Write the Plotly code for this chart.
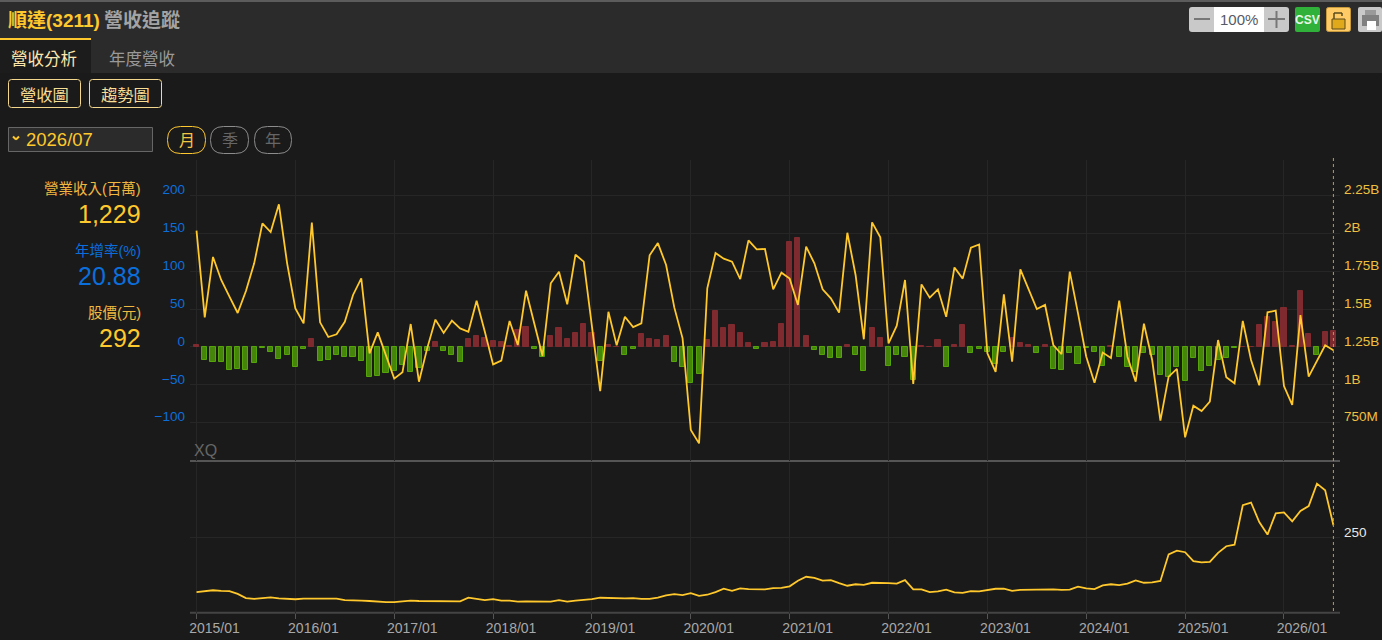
import plotly.graph_objects as go

W, H = 1382, 640

months = [f"{y}/{m:02d}" for y in range(2015, 2027) for m in range(1, 13)][:139]
year_ticks = [f"{y}/01" for y in range(2015, 2027)]

# monthly revenue, millions
revenue = [2019, 1446, 1845, 1693, 1583, 1475, 1620, 1803, 2067, 2010, 2193, 1803,
           1505, 1406, 2072, 1413, 1316, 1334, 1417, 1594, 1704, 1208, 1347, 1197,
           1041, 1083, 1402, 1021, 1241, 1431, 1343, 1424, 1373, 1351, 1556, 1351,
           1135, 1160, 1422, 1263, 1622, 1406, 1191, 1671, 1748, 1532, 1860, 1814,
           1384, 959, 1483, 1261, 1450, 1382, 1406, 1856, 1937, 1792, 1510, 1307,
           702, 613, 1638, 1871, 1834, 1814, 1699, 1955, 1895, 1898, 1631, 1741,
           1702, 1528, 1913, 1803, 1631, 1572, 1477, 2005, 1726, 1301, 2074, 1975,
           1274, 1391, 1693, 1006, 1664, 1576, 1631, 1450, 1776, 1702, 1906, 1928,
           1208, 1085, 1598, 1153, 1763, 1633, 1501, 1528, 1263, 1202, 1748, 1472,
           1186, 1014, 1213, 1177, 1556, 1186, 1021, 1404, 1164, 763, 1054, 1105,
           653, 862, 827, 889, 1296, 1050, 1010, 1422, 1164, 997, 1479, 1490,
           992, 867, 1461, 1054, 1157, 1261, 1229]

# year on year growth, %
yoy = [3, -17, -19.5, -19.5, -31, -29, -31, -21, -1.5, -7, -16, -10,
       -26, -3, 10, -18, -17, -10, -13, -13, -18, -40, -39, -34,
       -32, -24, -33, -28, -6, 6, -6, -11, -19.5, 10, 14, 12,
       8, 6, 1, 22, 27, -3, -13, 15, 25, 11, 18, 30,
       18, -18, 3, 0.5, -11, -3, 17, 10, 9, 15, -19.5, -27,
       -48, -36, 9, 47, 25, 29, 19, 5, -3, 5, 6, 30,
       139, 144, 15, -4, -11, -14, -14, 2.5, -10, -32, 25, 12,
       -25, -10, -13, -44, 1, 0.5, 9, -27, 2.5, 29, -8, -3,
       -7, -22, -7, 12, 5, 3, -8, 3, -29, -31, -8, -23,
       -1.5, -7, -25, 1, -13, -27, -33, -8, -10, -37, -40, -26,
       -45, -15, -32, -25, -17, -14, -1.5, 0.5, 0.5, 29, 39, 33,
       51, 1, 74, 17, -11, 19.5, 20.88]

# monthly stock price
price = [69, 71, 75, 73, 72, 63, 49, 46, 48, 51, 48, 47,
         45, 47, 48, 47, 47, 47, 42, 40, 40, 39, 36, 35,
         35, 37, 40, 39, 39, 38, 37, 37, 38, 50, 45, 42,
         45, 40, 40, 37, 38, 38, 37, 37, 42, 37, 40, 42,
         45, 50, 49, 48, 48, 49, 46, 46, 50, 58, 62, 59,
         65, 56, 60, 69, 80, 73, 81, 79, 78, 78, 82, 83,
         88, 107, 120, 116, 107, 109, 99, 90, 95, 93, 100, 100,
         99, 97, 109, 78, 78, 69, 71, 77, 68, 66, 72, 71,
         75, 80, 80, 73, 76, 77, 78, 78, 78, 76, 77, 87,
         81, 79, 91, 95, 92, 97, 108, 100, 101, 106, 195, 207,
         202, 172, 168, 170, 200, 222, 227, 359, 368, 303, 261, 332,
         335, 305, 340, 356, 431, 409, 292]

pct_ticks = [-100, -50, 0, 50, 100, 150, 200]
rev_ticks = [750, 1000, 1250, 1500, 1750, 2000, 2250]
rev_tick_labels = ["750M", "1B", "1.25B", "1.5B", "1.75B", "2B", "2.25B"]
price_ticks = [250]

BG = "#1a1a1a"
BAND = "#2b2b2b"
GRID = "#262626"
YELLOW = "#ffc82c"
BLUE = "#0a6fdc"
BASE_FONT = "Liberation Sans, Noto Sans CJK TC"


def px(x):
    return x / W


def py(y):
    return 1 - y / H


def rect(x0, y0, x1, y1, fill=None, line=None, width=1):
    return dict(type="rect", xref="paper", yref="paper",
                x0=px(x0), x1=px(x1), y0=py(y0), y1=py(y1),
                fillcolor=fill or "rgba(0,0,0,0)",
                line=dict(color=line or "rgba(0,0,0,0)", width=width if line else 0),
                layer="below")


def rrect(x0, y0, x1, y1, r, fill=None, line=None, width=1):
    p = (f"M{px(x0 + r)},{py(y0)} L{px(x1 - r)},{py(y0)} Q{px(x1)},{py(y0)} {px(x1)},{py(y0 + r)} "
         f"L{px(x1)},{py(y1 - r)} Q{px(x1)},{py(y1)} {px(x1 - r)},{py(y1)} "
         f"L{px(x0 + r)},{py(y1)} Q{px(x0)},{py(y1)} {px(x0)},{py(y1 - r)} "
         f"L{px(x0)},{py(y0 + r)} Q{px(x0)},{py(y0)} {px(x0 + r)},{py(y0)} Z")
    return dict(type="path", xref="paper", yref="paper", path=p,
                fillcolor=fill or "rgba(0,0,0,0)",
                line=dict(color=line or "rgba(0,0,0,0)", width=width if line else 0),
                layer="below")


def seg(x0, y0, x1, y1, color, width=1):
    return dict(type="line", xref="paper", yref="paper",
                x0=px(x0), x1=px(x1), y0=py(y0), y1=py(y1),
                line=dict(color=color, width=width), layer="below")


def label(x, y, text, size, color, anchor="left", bold=False):
    if bold:
        text = f"<b>{text}</b>"
    return dict(xref="paper", yref="paper", x=px(x), y=py(y), text=text, showarrow=False,
                xanchor=anchor, yanchor="middle", borderpad=0,
                font=dict(size=size, color=color, family=BASE_FONT))


shapes = [
    rect(0, 0, W, 73, BAND),
    rect(0, 0, W, 2, "#5c5c5c"),
    rect(0, 38, 91, 73, "#1c1c1c"),
    rect(0, 38, 91, 40, YELLOW),
    # buttons
    rrect(8.5, 79.5, 80.5, 107.5, 3, None, "#f2d78c"),
    rrect(89.5, 79.5, 161.5, 107.5, 3, None, "#f2d78c"),
    rect(8.5, 127.5, 152.5, 151.5, "#2b2b2b", "#666666"),
    seg(13, 136.5, 16, 139.5, YELLOW, 2),
    seg(16, 139.5, 19, 136.5, YELLOW, 2),
    rrect(167.5, 126.5, 205.5, 153.5, 13, None, YELLOW),
    rrect(210.5, 126.5, 248.5, 153.5, 13, None, "#8c8c8c"),
    rrect(254.5, 126.5, 291.5, 153.5, 13, None, "#8c8c8c"),
    # zoom control
    rrect(1189, 7, 1289, 32, 3, "#c9c9c9"),
    rect(1214, 7, 1264, 32, "#ffffff"),
    seg(1194, 19, 1210, 19, "#777777", 2),
    seg(1268, 19, 1285, 19, "#777777", 2),
    seg(1276.5, 11, 1276.5, 28, "#777777", 2),
    rrect(1295, 7, 1320, 32, 2, "#2fb13a"),
    rrect(1326.5, 7.5, 1350.5, 31.5, 2, "#ffcb66", "#c99a3a"),
    rect(1332, 19, 1345, 29, "#e0a91c", "#5a4a1e"),
    seg(1334, 19, 1334, 13, "#5a4a1e", 1.5),
    seg(1334, 13, 1342, 13, "#5a4a1e", 1.5),
    seg(1342, 13, 1342, 16, "#5a4a1e", 1.5),
    rrect(1358, 7, 1382, 32, 2, "#c9c9c9"),
    rect(1362, 15, 1379, 26, "#808080"),
    rect(1365, 10, 1376, 15, "#9a9a9a"),
    rect(1367, 21, 1376, 30, "#ffffff"),
    # panel rules
    seg(190, 461, 1340, 461, "#555555", 2),
    seg(190, 612.7, 1340, 612.7, "#444444", 2),
    # latest month marker
    dict(type="line", xref="x", yref="paper", x0=months[-1], x1=months[-1],
         y0=py(158), y1=py(612),
         line=dict(color="#c79a35", width=1, dash="3px,3px"), layer="above"),
]

annotations = [
    label(7, 20, "順達(3211)", 19, YELLOW, bold=True),
    label(103, 20, "營收追蹤", 19, "#a3a3a3", bold=True),
    label(44, 59, "營收分析", 16.5, "#fde7ae", "center"),
    label(142, 59, "年度營收", 16.5, "#999999", "center"),
    label(44.5, 95, "營收圖", 16.3, "#f8dd94", "center"),
    label(125.5, 95, "趨勢圖", 16.3, "#f8dd94", "center"),
    label(25, 139, "2026/07", 18.5, YELLOW),
    label(186.5, 140, "月", 16, "#f5c542", "center"),
    label(229.5, 140, "季", 16, "#666666", "center"),
    label(273, 140, "年", 16, "#666666", "center"),
    label(1239, 19.5, "100%", 15, "#555a66", "center"),
    label(1307.5, 19.5, "CSV", 12, "#e8f7e8", "center", bold=True),
    label(142, 189, "營業收入(百萬)", 14.5, "#f0b840", "right"),
    label(142, 214, "1,229", 25, YELLOW, "right"),
    label(142, 251, "年增率(%)", 14.5, BLUE, "right"),
    label(142, 276, "20.88", 25, BLUE, "right"),
    label(142, 313, "股價(元)", 14.5, "#f0b840", "right"),
    label(142, 338, "292", 25, YELLOW, "right"),
    label(193, 450, "XQ", 16, "#666666"),
]

bar_fill = ["#7e2a2e" if v > 0 else "#458509" for v in yoy]
bar_edge = ["#7e2a2e" if v > 0 else "#55a50a" for v in yoy]

fig = go.Figure()
fig.add_trace(go.Bar(x=months, y=yoy, xaxis="x2", yaxis="y", width=0.62,
                     marker=dict(color=bar_fill, line=dict(color=bar_edge, width=1))))
fig.add_trace(go.Scatter(x=months, y=revenue, xaxis="x2", yaxis="y2", mode="lines",
                         line=dict(color=YELLOW, width=1.8)))
fig.add_trace(go.Scatter(x=months, y=price, xaxis="x", yaxis="y3", mode="lines",
                         line=dict(color=YELLOW, width=1.8)))

x_range = [-0.79, 138.8]
x_domain = [px(190), px(1340)]
top_domain = [py(461), py(160)]
low_domain = [py(612.7), py(463)]

fig.update_layout(
    width=W, height=H, margin=dict(l=0, r=0, t=0, b=0),
    paper_bgcolor=BG, plot_bgcolor=BG, showlegend=False, bargap=0,
    font=dict(family=BASE_FONT),
    shapes=shapes, annotations=annotations,
    xaxis=dict(type="category", categoryorder="array", categoryarray=months,
               domain=x_domain, range=x_range, anchor="y3",
               tickvals=year_ticks, ticktext=year_ticks, ticks="outside", ticklen=5,
               tickcolor="#555555", showgrid=True, gridcolor=GRID, zeroline=False, showline=False,
               ticklabelshift=18, ticklabelstandoff=-3, tickfont=dict(size=14, color="#a8a8a8")),
    xaxis2=dict(type="category", categoryorder="array", categoryarray=months,
                domain=x_domain, range=x_range, anchor="y", matches="x",
                tickvals=year_ticks, showticklabels=False, ticks="",
                showgrid=True, gridcolor=GRID, zeroline=False, showline=False),
    yaxis=dict(domain=top_domain, range=[-150.7, 247], anchor="x2", side="left",
               tickvals=pct_ticks, showgrid=True, gridcolor=GRID, zeroline=False,
               ticklabelstandoff=4, ticklabelshift=-6, tickfont=dict(size=13.5, color=BLUE)),
    yaxis2=dict(domain=top_domain, range=[496.6, 2486], anchor="x2", overlaying="y", side="right",
                tickvals=rev_ticks, ticktext=rev_tick_labels, showgrid=False, zeroline=False,
                ticklabelstandoff=3, ticklabelshift=-6, tickfont=dict(size=13.5, color="#f0c040")),
    yaxis3=dict(domain=low_domain, range=[0, 500], anchor="x", side="right",
                tickvals=price_ticks, showgrid=True, gridcolor=GRID, zeroline=False,
                ticklabelstandoff=3, ticklabelshift=-6, tickfont=dict(size=13.5, color="#e8e8e8")),
)

fig.write_html("out.html", config={"displayModeBar": False},
               post_script="document.body.style.margin='0';document.body.style.overflow='hidden';window.dispatchEvent(new Event('resize'));")
